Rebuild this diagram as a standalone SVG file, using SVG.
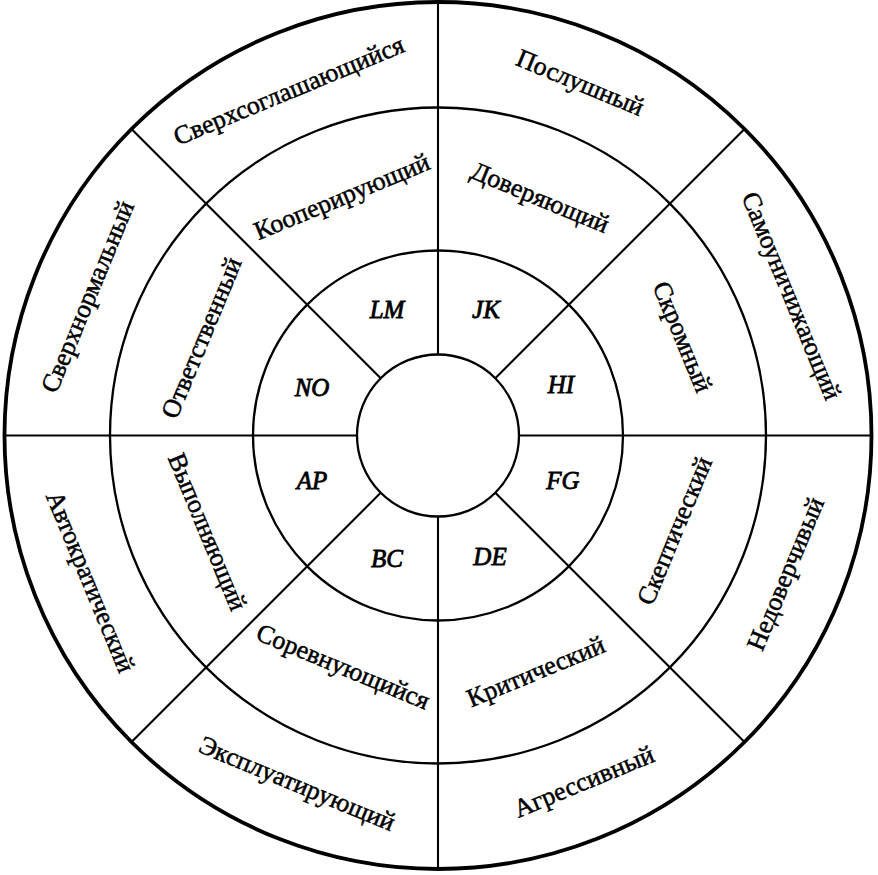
<svg xmlns="http://www.w3.org/2000/svg" width="878" height="875" viewBox="0 0 878 875">
<style>
.ring{fill:none;stroke:#000;stroke-width:2.3}
.outer{fill:none;stroke:#000;stroke-width:3.8}
.ln{stroke:#000;stroke-width:2.1;fill:none}
.t{font-family:"Liberation Serif","Times New Roman",serif;font-size:26px;fill:#000;stroke:#000;stroke-width:0.5;text-anchor:middle}
.c{font-family:"Liberation Serif","Times New Roman",serif;font-size:25px;font-style:italic;fill:#000;stroke:#000;stroke-width:0.8;text-anchor:middle}
</style>
<rect width="878" height="875" fill="#fff"/>
<g id="connectors">
<line class="ln" x1="438" y1="2" x2="438" y2="354.5"/>
<line class="ln" x1="438" y1="516.5" x2="438" y2="869"/>
<line class="ln" x1="4.5" y1="435.5" x2="357" y2="435.5"/>
<line class="ln" x1="519" y1="435.5" x2="871.5" y2="435.5"/>
<line class="ln" x1="131.5" y1="129" x2="380.7" y2="378.2"/>
<line class="ln" x1="744.5" y1="129" x2="495.3" y2="378.2"/>
<line class="ln" x1="744.5" y1="742" x2="495.3" y2="492.8"/>
<line class="ln" x1="131.5" y1="742" x2="380.7" y2="492.8"/>
</g>
<g id="rings">
<circle id="ring-outer" class="outer" cx="438" cy="435.5" r="433.5"/>
<circle id="ring-2" class="ring" cx="438" cy="435.5" r="328"/>
<circle id="ring-3" class="ring" cx="438" cy="435.5" r="185"/>
<circle id="ring-inner" class="ring" cx="438" cy="435.5" r="81"/>
</g>
<g id="outer-labels">
<g id="n-sverhsoglash" transform="translate(289,91) rotate(-22.5)"><text class="t" y="8">Сверхсоглашающийся</text></g>
<g id="n-poslushny" transform="translate(580,83) rotate(22.5)"><text class="t" y="8">Послушный</text></g>
<g id="n-samounich" transform="translate(791,296) rotate(67.5)"><text class="t" y="8">Самоуничижающий</text></g>
<g id="n-nedoverch" transform="translate(786,574) rotate(-67.5)"><text class="t" y="8">Недоверчивый</text></g>
<g id="n-agress" transform="translate(584,782) rotate(-22.5)"><text class="t" y="8">Агрессивный</text></g>
<g id="n-ekspl" transform="translate(297,784) rotate(22.5)"><text class="t" y="8">Эксплуатирующий</text></g>
<g id="n-avtokrat" transform="translate(90,582) rotate(67.5)"><text class="t" y="8">Автократический</text></g>
<g id="n-sverhnorm" transform="translate(88,297) rotate(-67.5)"><text class="t" y="8">Сверхнормальный</text></g>
</g>
<g id="middle-labels">
<g id="n-kooper" transform="translate(342,197) rotate(-22.5)"><text class="t" y="8">Кооперирующий</text></g>
<g id="n-doverya" transform="translate(540,198) rotate(22.5)"><text class="t" y="8">Доверяющий</text></g>
<g id="n-skromny" transform="translate(682,337) rotate(67.5)"><text class="t" y="8">Скромный</text></g>
<g id="n-skeptich" transform="translate(675,531) rotate(-67.5)"><text class="t" y="8">Скептический</text></g>
<g id="n-kritich" transform="translate(536,672) rotate(-22.5)"><text class="t" y="8">Критический</text></g>
<g id="n-sorevn" transform="translate(343,667) rotate(22.5)"><text class="t" y="8">Соревнующийся</text></g>
<g id="n-vypoln" transform="translate(207,532) rotate(67.5)"><text class="t" y="8">Выполняющий</text></g>
<g id="n-otvetst" transform="translate(202,338) rotate(-67.5)"><text class="t" y="8">Ответственный</text></g>
</g>
<g id="inner-labels">
<text id="n-LM" class="c" x="387" y="318">LM</text>
<text id="n-JK" class="c" x="486" y="318">JK</text>
<text id="n-HI" class="c" x="561" y="393">HI</text>
<text id="n-FG" class="c" x="563" y="489">FG</text>
<text id="n-DE" class="c" x="490" y="565">DE</text>
<text id="n-BC" class="c" x="387" y="567">BC</text>
<text id="n-AP" class="c" x="312" y="489">AP</text>
<text id="n-NO" class="c" x="312" y="396">NO</text>
</g>
</svg>
